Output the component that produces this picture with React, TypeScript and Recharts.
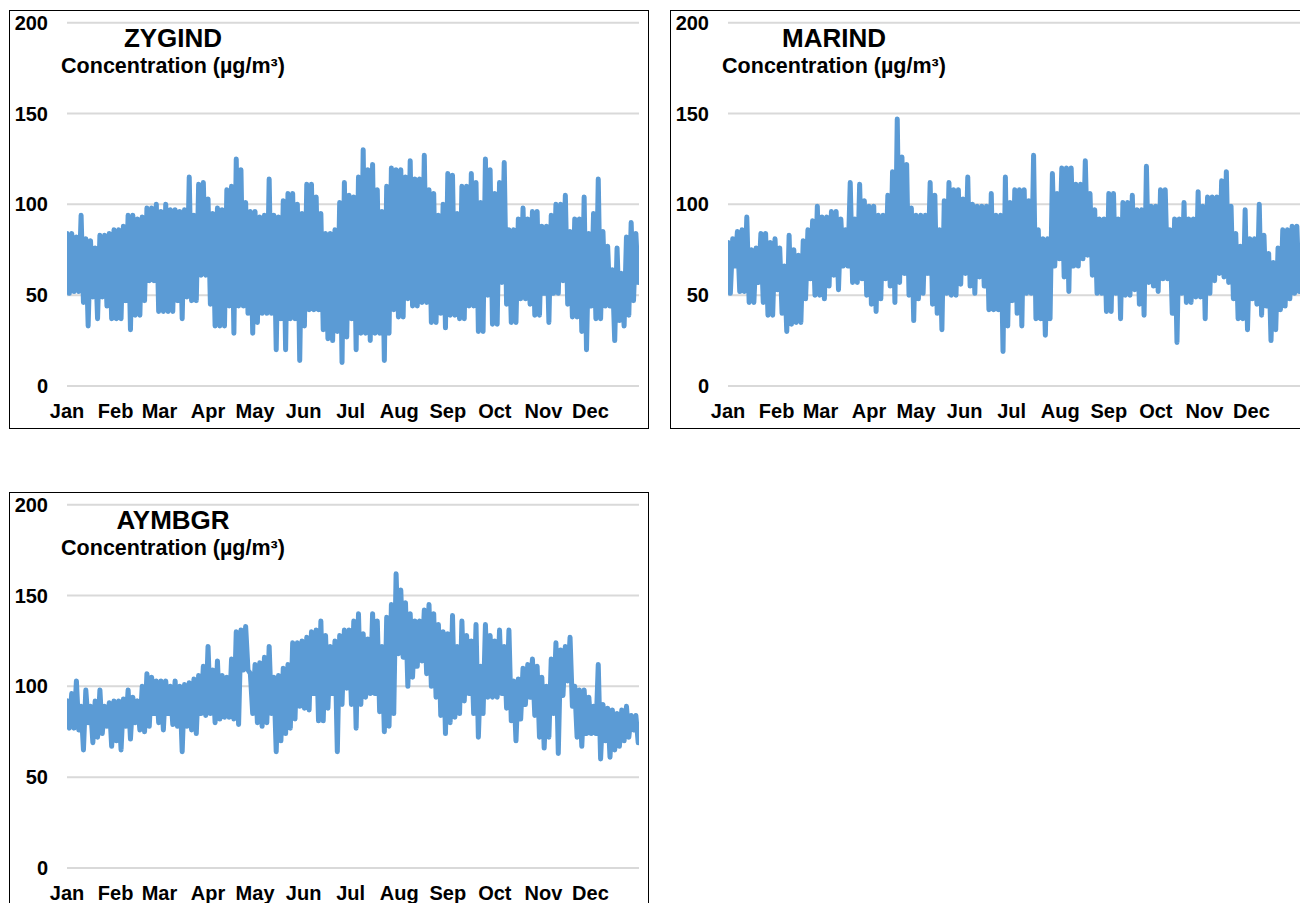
import React from 'react';
import { LineChart, Line, XAxis, YAxis, CartesianGrid } from 'recharts';

const MONTHS = ['Jan', 'Feb', 'Mar', 'Apr', 'May', 'Jun', 'Jul', 'Aug', 'Sep', 'Oct', 'Nov', 'Dec'];
const MONTH_START_DAYS = [0, 31, 59, 90, 120, 151, 181, 212, 243, 273, 304, 334];
const Y_TICKS = [0, 50, 100, 150, 200];
const STEP_DAYS = 3;

// ZYGIND: highest / lowest reading in each 3-day block
const ZYG_HIGH = [
  84, 84, 82, 94, 81, 80, 76, 83, 83, 84,
  86, 86, 88, 94, 94, 92, 93, 98, 98, 100,
  96, 100, 97, 97, 96, 97, 115, 94, 111, 112,
  103, 95, 98, 97, 108, 110, 125, 119, 101, 96,
  96, 93, 94, 114, 94, 93, 102, 106, 106, 100,
  95, 111, 111, 104, 95, 84, 84, 86, 101, 112,
  105, 104, 115, 130, 119, 122, 108, 96, 110, 120,
  119, 119, 115, 124, 114, 114, 127, 108, 106, 94,
  100, 117, 116, 95, 110, 110, 117, 112, 101, 125,
  119, 106, 112, 123, 86, 86, 92, 98, 92, 96,
  96, 88, 88, 94, 100, 100, 105, 85, 92, 92,
  104, 84, 95, 114, 85, 77, 64, 76, 62, 82,
  90, 84,
];
const ZYG_LOW = [
  51, 52, 52, 46, 33, 49, 37, 49, 44, 37,
  37, 37, 47, 31, 39, 39, 47, 58, 58, 41,
  41, 41, 41, 47, 37, 49, 47, 47, 61, 61,
  45, 33, 33, 33, 44, 29, 44, 44, 40, 29,
  35, 40, 40, 40, 20, 37, 20, 37, 37, 14,
  33, 42, 42, 42, 31, 26, 25, 30, 13, 27,
  37, 20, 29, 29, 25, 29, 29, 14, 29, 42,
  38, 38, 48, 44, 44, 46, 46, 35, 35, 40,
  32, 39, 39, 37, 37, 44, 44, 30, 30, 50,
  34, 34, 57, 45, 35, 35, 48, 48, 45, 39,
  39, 51, 35, 51, 51, 58, 45, 38, 38, 30,
  20, 44, 37, 37, 44, 44, 25, 36, 33, 39,
  47, 57,
];

// MARIND
const MAR_HIGH = [
  79, 81, 85, 86, 93, 75, 76, 84, 84, 79,
  81, 76, 66, 83, 75, 72, 80, 86, 91, 99,
  93, 93, 96, 96, 92, 86, 112, 92, 111, 102,
  99, 99, 94, 94, 105, 118, 147, 126, 122, 98,
  94, 94, 94, 112, 105, 86, 102, 112, 108, 108,
  103, 115, 100, 99, 99, 99, 106, 94, 94, 115,
  101, 108, 108, 108, 102, 127, 86, 81, 81, 117,
  106, 120, 120, 120, 111, 111, 124, 106, 97, 92,
  92, 106, 106, 92, 101, 101, 105, 97, 97, 121,
  99, 99, 108, 108, 86, 92, 92, 101, 92, 92,
  107, 99, 104, 104, 104, 113, 118, 99, 84, 77,
  97, 81, 81, 100, 83, 73, 68, 76, 86, 86,
  88, 88,
];
const MAR_LOW = [
  51, 66, 52, 52, 46, 46, 57, 46, 39, 39,
  53, 40, 30, 34, 35, 35, 48, 59, 50, 50,
  48, 55, 61, 53, 66, 66, 57, 57, 59, 50,
  45, 41, 48, 59, 55, 46, 57, 62, 50, 36,
  48, 51, 62, 45, 40, 31, 51, 50, 50, 56,
  62, 55, 51, 60, 55, 42, 42, 42, 19, 33,
  47, 40, 33, 51, 51, 37, 37, 28, 37, 66,
  70, 60, 52, 66, 66, 70, 72, 61, 51, 51,
  41, 41, 51, 37, 50, 50, 53, 45, 39, 57,
  55, 52, 59, 59, 40, 24, 51, 46, 46, 49,
  49, 37, 51, 58, 62, 60, 57, 48, 37, 37,
  31, 48, 45, 39, 44, 25, 31, 42, 44, 48,
  51, 52,
];

// AYMBGR
const AYM_HIGH = [
  92, 96, 103, 89, 98, 89, 92, 98, 89, 91,
  92, 92, 93, 98, 94, 92, 100, 107, 105, 103,
  103, 103, 100, 103, 100, 101, 102, 104, 106, 111,
  122, 109, 114, 106, 105, 115, 130, 131, 133, 107,
  112, 113, 116, 122, 105, 106, 110, 112, 124, 124,
  125, 127, 130, 131, 136, 128, 122, 125, 128, 131,
  131, 136, 140, 129, 126, 140, 136, 122, 138, 145,
  162, 153, 146, 140, 136, 136, 142, 145, 140, 134,
  130, 129, 139, 122, 136, 128, 125, 134, 111, 134,
  128, 125, 131, 122, 131, 103, 104, 110, 112, 115,
  111, 105, 100, 115, 124, 120, 122, 127, 100, 98,
  98, 94, 89, 112, 90, 88, 87, 85, 87, 89,
  84, 84,
];
const AYM_LOW = [
  77, 77, 76, 65, 80, 69, 72, 74, 78, 67,
  70, 65, 78, 71, 80, 76, 75, 78, 85, 80,
  76, 85, 79, 78, 64, 78, 76, 74, 85, 84,
  85, 80, 82, 83, 83, 82, 79, 109, 109, 85,
  80, 78, 80, 85, 64, 70, 74, 77, 82, 89,
  88, 87, 96, 81, 81, 88, 96, 64, 90, 99,
  90, 77, 90, 94, 96, 96, 86, 75, 78, 85,
  118, 116, 100, 105, 111, 114, 107, 100, 94, 84,
  74, 80, 83, 85, 92, 96, 85, 72, 85, 94,
  94, 94, 96, 88, 81, 70, 82, 90, 94, 84,
  72, 66, 72, 85, 63, 95, 103, 89, 72, 67,
  74, 74, 74, 60, 70, 61, 65, 67, 70, 72,
  76, 69,
];

type Pt = { day: number; value: number };

function buildSeries(high: number[], low: number[]): Pt[] {
  const pts: Pt[] = [];
  high.forEach((h, i) => {
    pts.push({ day: i * STEP_DAYS, value: h });
    pts.push({ day: i * STEP_DAYS + STEP_DAYS / 2, value: low[i] });
  });
  return pts;
}

const FONT = '"Liberation Sans", Arial, Helvetica, sans-serif';
const PANEL_W = 640;
const PANEL_H = 419;

const tickStyle = { fill: '#000', fontSize: 20, fontWeight: 700, fontFamily: FONT };

function Panel({ left, top, title, data }: { left: number; top: number; title: string; data: Pt[] }) {
  return (
    <div style={{ position: 'absolute', left, top, width: PANEL_W, height: PANEL_H }}>
      <div
        style={{
          position: 'absolute',
          left: 0,
          top: 0,
          width: PANEL_W,
          height: PANEL_H,
          boxSizing: 'border-box',
          border: '1.5px solid #000',
        }}
      />
      <div style={{ position: 'absolute', left: 0, top: 0 }}>
        <LineChart
          width={PANEL_W}
          height={PANEL_H}
          data={data}
          margin={{ top: 12.7, right: 10, bottom: 13, left: 0 }}
        >
          <CartesianGrid horizontal vertical={false} stroke="#D9D9D9" strokeWidth={2} />
          <XAxis
            type="number"
            dataKey="day"
            domain={[0, 365]}
            ticks={MONTH_START_DAYS}
            tickFormatter={(v: number) => MONTHS[MONTH_START_DAYS.indexOf(v)]}
            interval={0}
            axisLine={false}
            tickLine={false}
            tickSize={0}
            tickMargin={18}
            height={30}
            tick={tickStyle}
            allowDataOverflow
          />
          <YAxis
            type="number"
            domain={[0, 200]}
            ticks={Y_TICKS}
            interval={0}
            axisLine={false}
            tickLine={false}
            tickSize={0}
            tickMargin={19}
            width={58}
            tick={tickStyle}
          />
          <Line
            type="linear"
            dataKey="value"
            stroke="#5B9BD5"
            strokeWidth={5}
            strokeLinejoin="round"
            strokeLinecap="round"
            dot={false}
            activeDot={false}
            isAnimationActive={false}
          />
        </LineChart>
      </div>
      <svg
        width={PANEL_W}
        height={PANEL_H}
        style={{ position: 'absolute', left: 0, top: 0, pointerEvents: 'none' }}
      >
        <text x={164} y={37} textAnchor="middle" fontFamily={FONT} fontWeight={700} fontSize={26} fill="#000">
          {title}
        </text>
        <text x={164} y={63} textAnchor="middle" fontFamily={FONT} fontWeight={700} fontSize={21.5} fill="#000">
          Concentration (µg/m³)
        </text>
      </svg>
    </div>
  );
}

export default function App() {
  const zyg = buildSeries(ZYG_HIGH, ZYG_LOW);
  const mar = buildSeries(MAR_HIGH, MAR_LOW);
  const aym = buildSeries(AYM_HIGH, AYM_LOW);
  return (
    <div
      style={{
        position: 'absolute',
        left: 0,
        top: 0,
        width: 1300,
        height: 903,
        overflow: 'hidden',
        background: '#fff',
      }}
    >
      <Panel left={9} top={10} title="ZYGIND" data={zyg} />
      <Panel left={670} top={10} title="MARIND" data={mar} />
      <Panel left={9} top={492} title="AYMBGR" data={aym} />
    </div>
  );
}
